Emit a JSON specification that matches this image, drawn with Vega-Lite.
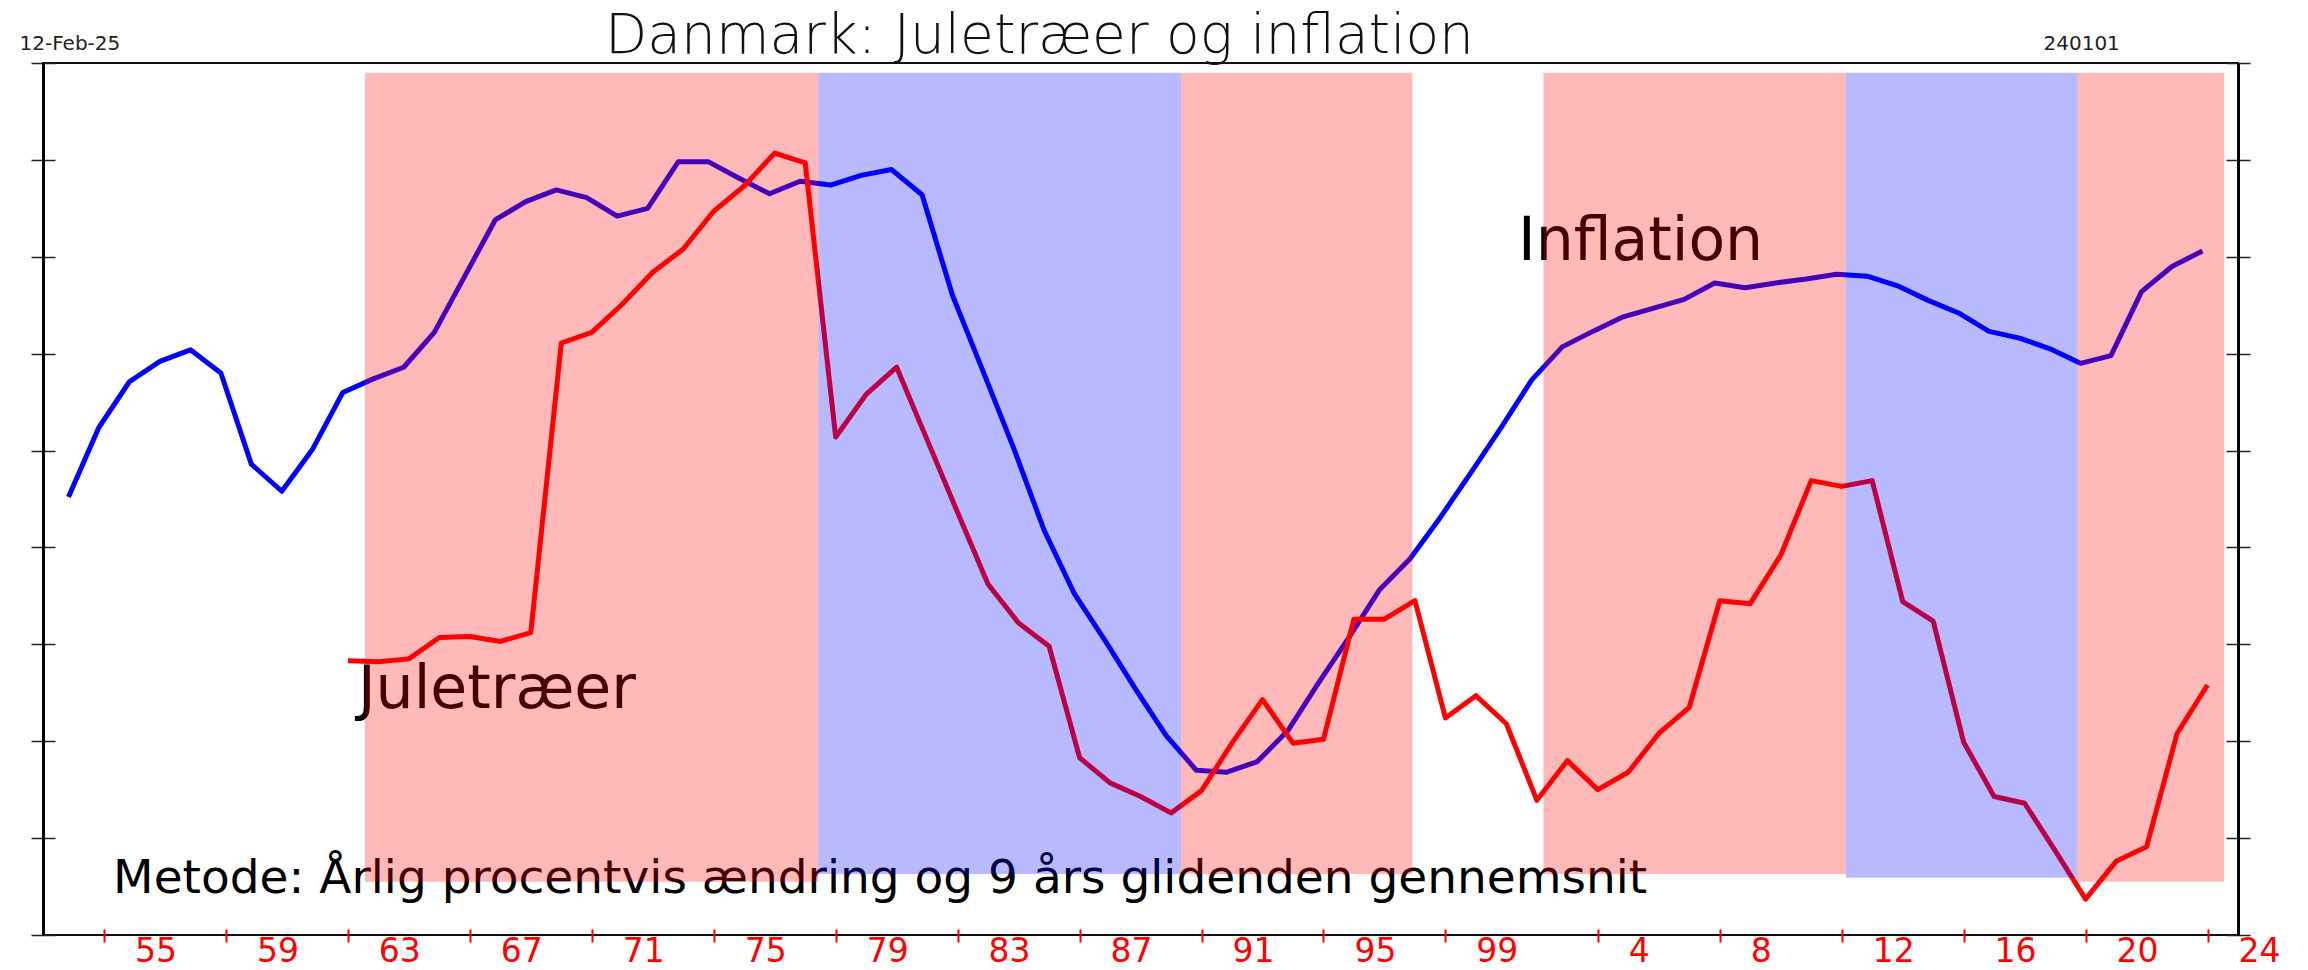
{
  "$schema": "https://vega.github.io/schema/vega-lite/v6.json",
  "width": 2195,
  "height": 872,
  "autosize": {"type": "none"},
  "padding": {"left": 43, "top": 63, "right": 70, "bottom": 35},
  "background": "white",
  "title": {
    "text": "Danmark: Juletræer og inflation",
    "font": "DejaVu Sans",
    "fontSize": 55,
    "fontWeight": 300,
    "color": "#111111",
    "anchor": "middle",
    "frame": "group",
    "baseline": "alphabetic",
    "offset": 0,
    "dx": -101,
    "dy": 75
  },
  "datasets": {
    "inflation": [
      {"t": "1952-11-01", "v": 4.52}, {"t": "1953-11-01", "v": 5.24}, {"t": "1954-11-01", "v": 5.71},
      {"t": "1955-11-01", "v": 5.92}, {"t": "1956-11-01", "v": 6.04}, {"t": "1957-11-01", "v": 5.80},
      {"t": "1958-11-01", "v": 4.86}, {"t": "1959-11-01", "v": 4.58}, {"t": "1960-11-01", "v": 5.01},
      {"t": "1961-11-01", "v": 5.60}, {"t": "1962-11-01", "v": 5.74}, {"t": "1963-11-01", "v": 5.86},
      {"t": "1964-11-01", "v": 6.22}, {"t": "1965-11-01", "v": 6.80}, {"t": "1966-11-01", "v": 7.38},
      {"t": "1967-11-01", "v": 7.57}, {"t": "1968-11-01", "v": 7.69}, {"t": "1969-11-01", "v": 7.61},
      {"t": "1970-11-01", "v": 7.42}, {"t": "1971-11-01", "v": 7.50}, {"t": "1972-11-01", "v": 7.98},
      {"t": "1973-11-01", "v": 7.98}, {"t": "1974-11-01", "v": 7.81}, {"t": "1975-11-01", "v": 7.65},
      {"t": "1976-11-01", "v": 7.78}, {"t": "1977-11-01", "v": 7.74}, {"t": "1978-11-01", "v": 7.84},
      {"t": "1979-11-01", "v": 7.90}, {"t": "1980-11-01", "v": 7.64}, {"t": "1981-11-01", "v": 6.60},
      {"t": "1982-11-01", "v": 5.82}, {"t": "1983-11-01", "v": 5.03}, {"t": "1984-11-01", "v": 4.18},
      {"t": "1985-11-01", "v": 3.52}, {"t": "1986-11-01", "v": 3.04}, {"t": "1987-11-01", "v": 2.54},
      {"t": "1988-11-01", "v": 2.06}, {"t": "1989-11-01", "v": 1.70}, {"t": "1990-11-01", "v": 1.68},
      {"t": "1991-11-01", "v": 1.79}, {"t": "1992-11-01", "v": 2.11}, {"t": "1993-11-01", "v": 2.60},
      {"t": "1994-11-01", "v": 3.07}, {"t": "1995-11-01", "v": 3.56}, {"t": "1996-11-01", "v": 3.88},
      {"t": "1997-11-01", "v": 4.31}, {"t": "1998-11-01", "v": 4.77}, {"t": "1999-11-01", "v": 5.24},
      {"t": "2000-11-01", "v": 5.73}, {"t": "2001-11-01", "v": 6.07}, {"t": "2002-11-01", "v": 6.23},
      {"t": "2003-11-01", "v": 6.38}, {"t": "2004-11-01", "v": 6.47}, {"t": "2005-11-01", "v": 6.56},
      {"t": "2006-11-01", "v": 6.73}, {"t": "2007-11-01", "v": 6.68}, {"t": "2008-11-01", "v": 6.73},
      {"t": "2009-11-01", "v": 6.77}, {"t": "2010-11-01", "v": 6.82}, {"t": "2011-11-01", "v": 6.80},
      {"t": "2012-11-01", "v": 6.70}, {"t": "2013-11-01", "v": 6.55}, {"t": "2014-11-01", "v": 6.42},
      {"t": "2015-11-01", "v": 6.23}, {"t": "2016-11-01", "v": 6.16}, {"t": "2017-11-01", "v": 6.05},
      {"t": "2018-11-01", "v": 5.90}, {"t": "2019-11-01", "v": 5.98}, {"t": "2020-11-01", "v": 6.64},
      {"t": "2021-11-01", "v": 6.90}, {"t": "2022-11-01", "v": 7.06}
    ],
    "juletraeer": [
      {"t": "1962-01-01", "v": 2.83}, {"t": "1963-01-01", "v": 2.82}, {"t": "1964-01-01", "v": 2.85},
      {"t": "1965-01-01", "v": 3.07}, {"t": "1966-01-01", "v": 3.08}, {"t": "1967-01-01", "v": 3.03},
      {"t": "1968-01-01", "v": 3.12}, {"t": "1969-01-01", "v": 6.11}, {"t": "1970-01-01", "v": 6.22},
      {"t": "1971-01-01", "v": 6.51}, {"t": "1972-01-01", "v": 6.84}, {"t": "1973-01-01", "v": 7.08},
      {"t": "1974-01-01", "v": 7.47}, {"t": "1975-01-01", "v": 7.73}, {"t": "1976-01-01", "v": 8.07},
      {"t": "1977-01-01", "v": 7.97}, {"t": "1978-01-01", "v": 5.14}, {"t": "1979-01-01", "v": 5.58},
      {"t": "1980-01-01", "v": 5.86}, {"t": "1981-01-01", "v": 5.11}, {"t": "1982-01-01", "v": 4.36},
      {"t": "1983-01-01", "v": 3.62}, {"t": "1984-01-01", "v": 3.22}, {"t": "1985-01-01", "v": 2.98},
      {"t": "1986-01-01", "v": 1.83}, {"t": "1987-01-01", "v": 1.57}, {"t": "1988-01-01", "v": 1.43},
      {"t": "1989-01-01", "v": 1.26}, {"t": "1990-01-01", "v": 1.49}, {"t": "1991-01-01", "v": 1.98},
      {"t": "1992-01-01", "v": 2.43}, {"t": "1993-01-01", "v": 1.98}, {"t": "1994-01-01", "v": 2.02},
      {"t": "1995-01-01", "v": 3.26}, {"t": "1996-01-01", "v": 3.26}, {"t": "1997-01-01", "v": 3.45},
      {"t": "1998-01-01", "v": 2.24}, {"t": "1999-01-01", "v": 2.47}, {"t": "2000-01-01", "v": 2.18},
      {"t": "2001-01-01", "v": 1.39}, {"t": "2002-01-01", "v": 1.80}, {"t": "2003-01-01", "v": 1.50},
      {"t": "2004-01-01", "v": 1.68}, {"t": "2005-01-01", "v": 2.08}, {"t": "2006-01-01", "v": 2.35},
      {"t": "2007-01-01", "v": 3.45}, {"t": "2008-01-01", "v": 3.42}, {"t": "2009-01-01", "v": 3.92},
      {"t": "2010-01-01", "v": 4.69}, {"t": "2011-01-01", "v": 4.63}, {"t": "2012-01-01", "v": 4.69},
      {"t": "2013-01-01", "v": 3.44}, {"t": "2014-01-01", "v": 3.24}, {"t": "2015-01-01", "v": 1.99},
      {"t": "2016-01-01", "v": 1.43}, {"t": "2017-01-01", "v": 1.36}, {"t": "2018-01-01", "v": 0.87},
      {"t": "2019-01-01", "v": 0.37}, {"t": "2020-01-01", "v": 0.76}, {"t": "2021-01-01", "v": 0.91},
      {"t": "2022-01-01", "v": 2.08}, {"t": "2023-01-01", "v": 2.58}
    ],
    "tekster": [
      {"label": "Inflation", "t": "2000-05-19", "v": 6.97, "kind": "serie"},
      {"label": "Juletræer", "t": "1962-05-01", "v": 2.34, "kind": "serie"},
      {"label": "Metode: Årlig procentvis ændring og 9 års glidenden gennemsnit", "t": "1954-04-20", "v": 0.43, "kind": "note"}
    ],
    "faser": [
      {"fase": "rød", "t": "1962-07-23", "t2": "1977-06-07", "v": 0.55, "v2": 8.9},
      {"fase": "blå", "t": "1977-06-07", "t2": "1989-05-01", "v": 0.63, "v2": 8.9},
      {"fase": "rød", "t": "1989-05-01", "t2": "1996-12-01", "v": 0.63, "v2": 8.9},
      {"fase": "rød", "t": "2001-03-20", "t2": "2011-02-20", "v": 0.63, "v2": 8.9},
      {"fase": "blå", "t": "2011-02-20", "t2": "2018-09-24", "v": 0.59, "v2": 8.9},
      {"fase": "rød", "t": "2018-09-24", "t2": "2023-07-20", "v": 0.55, "v2": 8.9}
    ]
  },
  "encoding": {
    "x": {
      "field": "t",
      "type": "temporal",
      "scale": {
        "domain": [{"year": 1952, "month": 1, "date": 1, "utc": true}, {"year": 2024, "month": 1, "date": 1, "utc": true}],
        "nice": false
      },
      "axis": {
        "orient": "bottom",
        "values": [
          {"year": 1954, "utc": true}, {"year": 1955, "utc": true}, {"year": 1958, "utc": true}, {"year": 1959, "utc": true},
          {"year": 1962, "utc": true}, {"year": 1963, "utc": true}, {"year": 1966, "utc": true}, {"year": 1967, "utc": true},
          {"year": 1970, "utc": true}, {"year": 1971, "utc": true}, {"year": 1974, "utc": true}, {"year": 1975, "utc": true},
          {"year": 1978, "utc": true}, {"year": 1979, "utc": true}, {"year": 1982, "utc": true}, {"year": 1983, "utc": true},
          {"year": 1986, "utc": true}, {"year": 1987, "utc": true}, {"year": 1990, "utc": true}, {"year": 1991, "utc": true},
          {"year": 1994, "utc": true}, {"year": 1995, "utc": true}, {"year": 1998, "utc": true}, {"year": 1999, "utc": true},
          {"year": 2003, "utc": true}, {"year": 2004, "utc": true}, {"year": 2007, "utc": true}, {"year": 2008, "utc": true},
          {"year": 2011, "utc": true}, {"year": 2012, "utc": true}, {"year": 2015, "utc": true}, {"year": 2016, "utc": true},
          {"year": 2019, "utc": true}, {"year": 2020, "utc": true}, {"year": 2023, "utc": true}, {"year": 2024, "utc": true}
        ],
        "offset": -6,
        "domain": false,
        "grid": false,
        "tickSize": 13,
        "tickWidth": 2,
        "tickColor": "#ff0000",
        "tickOpacity": {
          "condition": {"test": "utcyear(datum.value) < 2000 ? (utcyear(datum.value) - 1954) % 4 == 0 : (utcyear(datum.value) - 2003) % 4 == 0", "value": 1},
          "value": 0
        },
        "labelExpr": "(utcyear(datum.value) < 2000 ? (utcyear(datum.value) - 1955) % 4 == 0 : (utcyear(datum.value) - 2004) % 4 == 0) ? toString(utcyear(datum.value) % 100) : ''",
        "labelAlign": "left",
        "labelBaseline": "top",
        "labelPadding": -7,
        "labelFont": "DejaVu Sans",
        "labelFontSize": 33,
        "labelColor": "#ff0000",
        "labelOverlap": false,
        "labelFlush": false,
        "labelBound": false,
        "title": null,
        "zindex": 1
      }
    }
  },
  "layer": [
    {
      "data": {"name": "inflation"},
      "mark": {"type": "line", "color": "#0000ff", "strokeWidth": 5, "strokeJoin": "round"},
      "encoding": {
        "y": {
          "field": "v", "type": "quantitative",
          "scale": {"domain": [0, 9], "nice": false, "zero": false},
          "axis": {
            "orient": "left", "offset": -12, "tickSize": 24, "tickWidth": 1.5, "tickColor": "#222222",
            "domain": false, "labels": false, "grid": false, "values": [0, 1, 2, 3, 4, 5, 6, 7, 8, 9],
            "title": "12-Feb-25", "titleAngle": 0, "titleAlign": "left", "titleBaseline": "alphabetic",
            "titleX": -36, "titleY": -14, "titleFont": "DejaVu Sans", "titleFontSize": 20,
            "titleFontWeight": "normal", "titleColor": "#222222", "zindex": 1
          }
        }
      }
    },
    {
      "data": {"name": "juletraeer"},
      "mark": {"type": "line", "color": "#ff0000", "strokeWidth": 5, "strokeJoin": "round"},
      "encoding": {
        "y": {
          "field": "v", "type": "quantitative",
          "scale": {"domain": [0, 9], "nice": false, "zero": false},
          "axis": {
            "orient": "right", "offset": -12, "tickSize": 24, "tickWidth": 1.5, "tickColor": "#222222",
            "domain": false, "labels": false, "grid": false, "values": [0, 1, 2, 3, 4, 5, 6, 7, 8, 9],
            "title": "240101", "titleAngle": 0, "titleAlign": "left", "titleBaseline": "alphabetic",
            "titleX": -183, "titleY": -14, "titleFont": "DejaVu Sans", "titleFontSize": 20,
            "titleFontWeight": "normal", "titleColor": "#222222", "zindex": 1
          }
        }
      }
    },
    {
      "data": {"name": "tekster"},
      "mark": {"type": "text", "align": "left", "baseline": "alphabetic", "font": "DejaVu Sans", "color": "#000000"},
      "encoding": {
        "y": {
          "field": "v", "type": "quantitative",
          "scale": {"domain": [0, 9], "nice": false, "zero": false},
          "axis": {
            "orient": "left", "domain": true, "domainWidth": 3, "domainColor": "#000000",
            "ticks": false, "labels": false, "grid": false, "title": null, "zindex": 1
          }
        },
        "text": {"field": "label"},
        "size": {"field": "kind", "type": "ordinal", "scale": {"domain": ["serie", "note"], "range": [60, 47]}, "legend": null}
      }
    },
    {
      "data": {"name": "faser"},
      "mark": {"type": "rect", "opacity": 0.275},
      "encoding": {
        "x2": {"field": "t2"},
        "y": {
          "field": "v", "type": "quantitative",
          "scale": {"domain": [0, 9], "nice": false, "zero": false},
          "axis": {
            "orient": "right", "domain": true, "domainWidth": 3, "domainColor": "#000000",
            "ticks": false, "labels": false, "grid": false, "title": null, "zindex": 1
          }
        },
        "y2": {"field": "v2"},
        "color": {"field": "fase", "type": "nominal", "scale": {"domain": ["rød", "blå"], "range": ["#ff0000", "#0000ff"]}, "legend": null}
      }
    }
  ],
  "resolve": {"axis": {"y": "independent"}},
  "config": {"view": {"stroke": "#111111", "strokeWidth": 2}}
}
